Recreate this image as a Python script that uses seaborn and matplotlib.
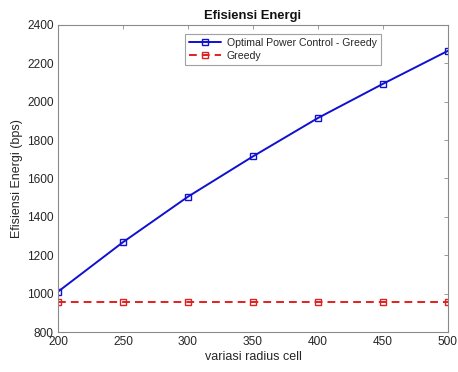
import matplotlib
matplotlib.use("Agg")
import matplotlib.pyplot as plt
import seaborn as sns
import pandas as pd

# Cell radius variation and energy efficiency results
radius = [200, 250, 300, 350, 400, 450, 500]
opc_greedy = [1010, 1268, 1505, 1715, 1915, 2093, 2265]
greedy = [955, 955, 955, 955, 955, 955, 955]
series_names = ["Optimal Power Control - Greedy", "Greedy"]

df = pd.DataFrame({
    "radius": radius * 2,
    "value": opc_greedy + greedy,
    "series": [series_names[0]] * len(radius) + [series_names[1]] * len(radius),
})

sns.set_theme(style="white")
plt.rcParams["font.family"] = ["Liberation Sans", "DejaVu Sans"]

fig = plt.figure(figsize=(4.58, 3.72), dpi=100)
ax = fig.add_axes([0.1266, 0.1075, 0.8514, 0.8255])

sns.lineplot(
    data=df, x="radius", y="value", hue="series", style="series",
    palette={series_names[0]: "#1010d0", series_names[1]: "#e02020"},
    dashes={series_names[0]: "", series_names[1]: (4, 2.6)},
    markers={series_names[0]: "s", series_names[1]: "s"},
    markersize=5, markerfacecolor="none", markeredgewidth=1.0,
    linewidth=1.4, ax=ax,
)
for line in ax.lines:
    line.set_markerfacecolor("none")
    line.set_markeredgecolor(line.get_color())

ax.set_xlim(200, 500)
ax.set_ylim(800, 2400)
ax.set_xticks(radius)
ax.set_yticks(range(800, 2401, 200))
ax.tick_params(direction="in", length=3, width=0.6, colors="#8a8a8a",
               labelcolor="#262626", labelsize=8.6, top=True, right=True,
               pad=3)
for s in ax.spines.values():
    s.set_color("#8a8a8a")
    s.set_linewidth(0.8)

ax.set_xlabel("variasi radius cell", fontsize=9, color="#262626", labelpad=2)
ax.set_ylabel("Efisiensi Energi (bps)", fontsize=9, color="#262626", labelpad=3)
ax.set_title("Efisiensi Energi", fontsize=9.4, fontweight="bold", color="#111111", pad=4)

leg = ax.legend(loc="upper left", bbox_to_anchor=(0.326, 0.972), fontsize=7.6,
                frameon=True, fancybox=False, borderpad=0.4, labelspacing=0.3,
                handlelength=3.0, handletextpad=0.55, borderaxespad=0)
leg.get_frame().set_edgecolor("#8a8a8a")
leg.get_frame().set_linewidth(0.8)
for t in leg.get_texts():
    t.set_color("#262626")

fig.savefig("out.png", dpi=100)
